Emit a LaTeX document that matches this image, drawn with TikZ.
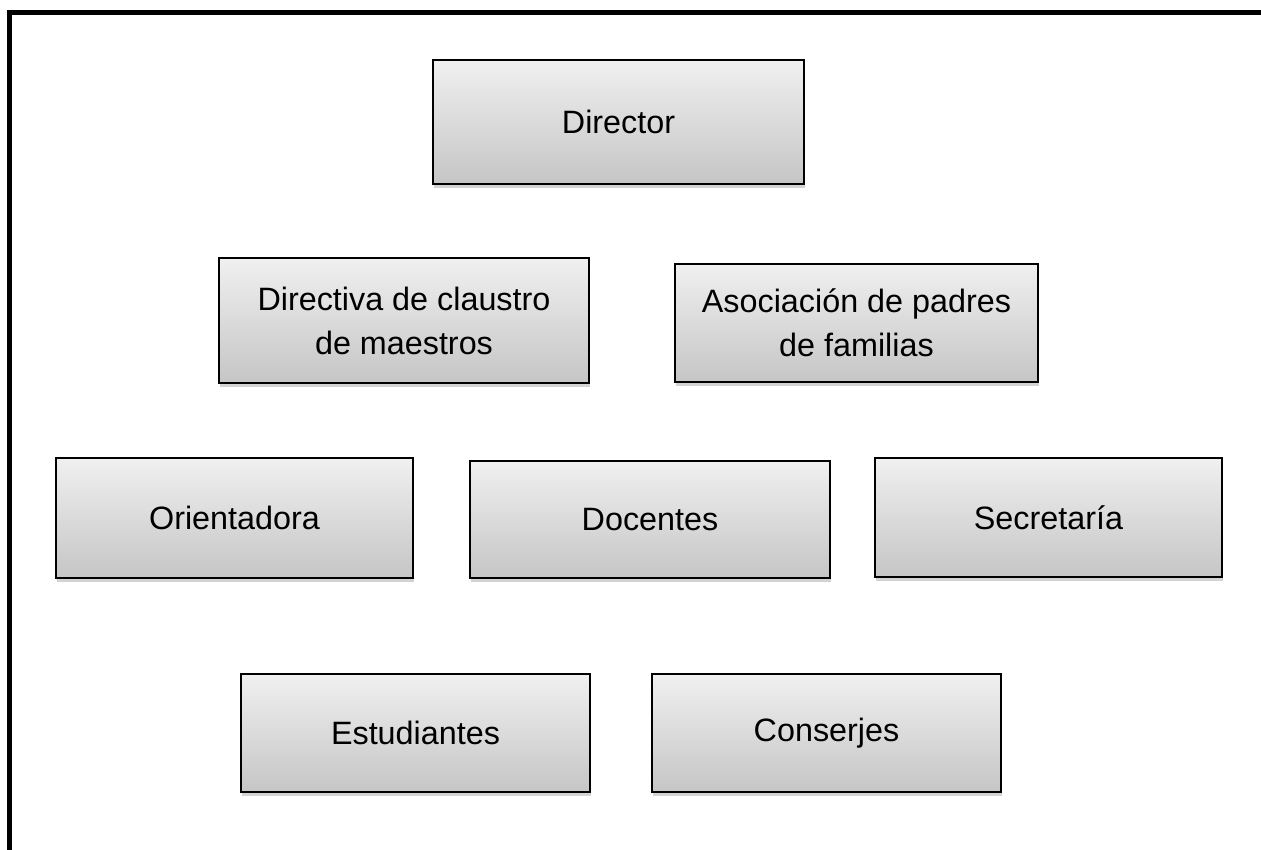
\documentclass[tikz,border=0pt]{standalone}
\usepackage{fontspec}
\setmainfont{Liberation Sans}
\usetikzlibrary{shadows}

\tikzset{
    unit/.style={draw=black, line width=0.6pt, top color=gray!12, bottom color=gray!45,
        drop shadow={shadow xshift=0.4pt, shadow yshift=-1.2pt, opacity=0.35},
        minimum width=3.55cm, minimum height=1.19cm, align=center, inner sep=2pt,
        font=\fontsize{9.2}{11.5}\selectfont}
}

\begin{document}
\begin{tikzpicture}
        \useasboundingbox (0, 0) rectangle (12.61, -8.5);
        \draw[line width=1.45pt] (0.095, -8.5) -- (0.095, -0.125) -- (12.61, -0.125);

        \node[unit, minimum width=3.71cm, minimum height=1.24cm] (director) at (6.185, -1.22) {Director};

        \node[unit, minimum width=3.7cm, minimum height=1.25cm] (directiva) at (4.04, -3.205) {Directiva de claustro\\[1pt]de maestros};
        \node[unit, minimum width=3.63cm, minimum height=1.18cm] (asociacion) at (8.565, -3.23) {Asociación de padres\\[1pt]de familias};

        \node[unit, minimum width=3.57cm, minimum height=1.2cm] (orientadora) at (2.345, -5.18) {Orientadora};
        \node[unit, minimum width=3.6cm, minimum height=1.17cm] (docentes) at (6.5, -5.195) {Docentes};
        \node[unit, minimum width=3.47cm] (secretaria) at (10.485, -5.175) {Secretaría};

        \node[unit, minimum width=3.49cm, minimum height=1.18cm] (estudiantes) at (4.155, -7.33) {Estudiantes};
        \node[unit, minimum width=3.49cm, minimum height=1.18cm] (conserjes) at (8.265, -7.33) {Conserjes};
    \end{tikzpicture}
\end{document}
